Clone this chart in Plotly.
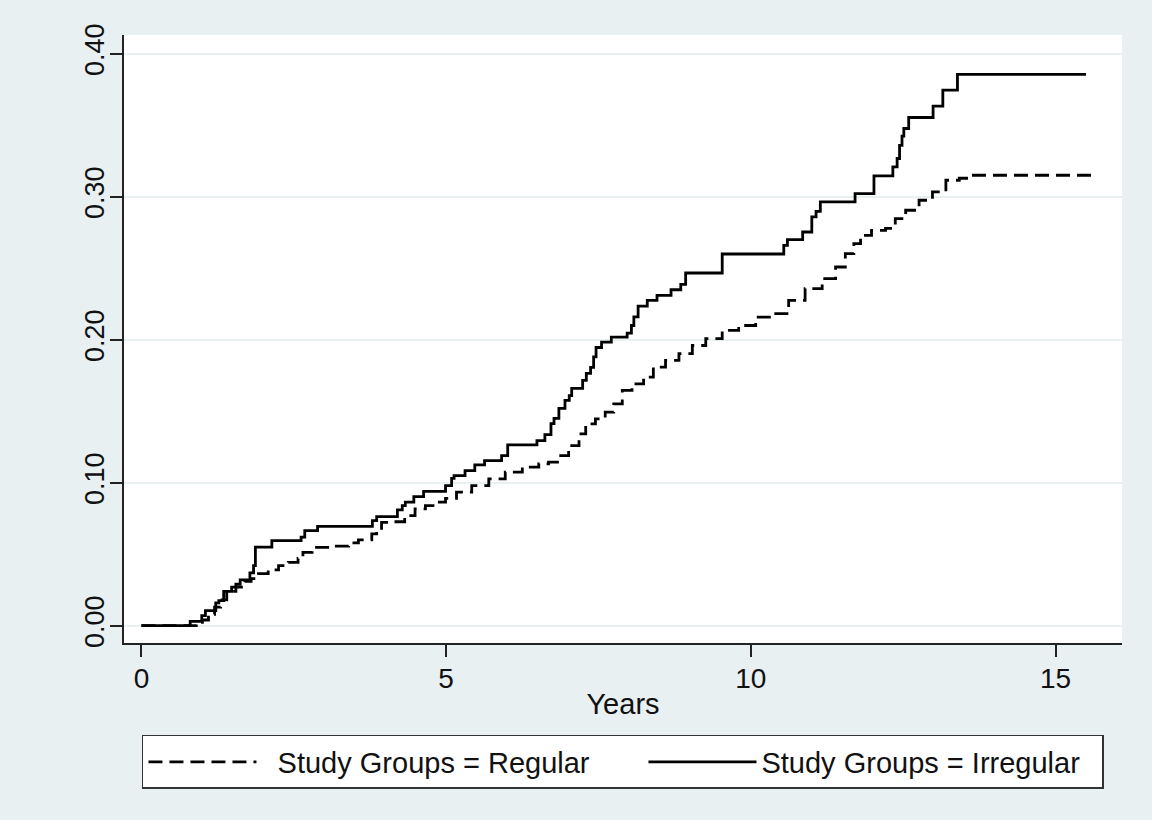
import plotly.graph_objects as go

# Irregular group (solid): step points (years, cumulative incidence)
irr_years = [0, 0.80, 0.99, 1.05, 1.22, 1.27, 1.35, 1.48, 1.55, 1.62, 1.78, 1.84, 1.87,
             2.14, 2.62, 2.68, 2.89, 3.79, 3.86, 4.20, 4.28, 4.33, 4.47, 4.63, 4.99,
             5.09, 5.13, 5.31, 5.47, 5.63, 5.91, 6.01, 6.49, 6.62, 6.72, 6.77, 6.85,
             6.95, 7.02, 7.06, 7.24, 7.30, 7.37, 7.42, 7.46, 7.55, 7.71, 7.97, 8.04,
             8.08, 8.15, 8.30, 8.46, 8.69, 8.85, 8.93, 9.53, 10.54, 10.60, 10.85, 11.00,
             11.07, 11.14, 11.71, 12.02, 12.33, 12.40, 12.44, 12.48, 12.51, 12.59, 12.99,
             13.15, 13.39, 15.50]
irr_vals = [0, 0.003, 0.007, 0.0105, 0.016, 0.0175, 0.024, 0.027, 0.029, 0.032, 0.037, 0.042, 0.055,
            0.0595, 0.062, 0.0665, 0.0695, 0.0735, 0.0763, 0.081, 0.084, 0.0864, 0.0903, 0.094, 0.098,
            0.103, 0.105, 0.1085, 0.1125, 0.1155, 0.119, 0.1265, 0.1295, 0.1337, 0.1414, 0.145, 0.152,
            0.1576, 0.161, 0.166, 0.1716, 0.1765, 0.1807, 0.188, 0.1946, 0.1984, 0.2019, 0.2047, 0.210,
            0.216, 0.2236, 0.2276, 0.231, 0.235, 0.2388, 0.2467, 0.2600, 0.2661, 0.270, 0.2754, 0.286,
            0.2898, 0.2965, 0.3023, 0.3147, 0.321, 0.3268, 0.336, 0.3424, 0.3478, 0.3555, 0.3634,
            0.3746, 0.3856, 0.3856]

# Regular group (dashed)
reg_years = [0, 0.90, 1.00, 1.10, 1.20, 1.30, 1.40, 1.55, 1.70, 1.80, 1.92, 2.08, 2.25, 2.41,
             2.57, 2.65, 2.80, 3.13, 3.40, 3.56, 3.78, 3.86, 3.94, 4.10, 4.32, 4.49, 4.66,
             4.82, 4.99, 5.17, 5.42, 5.70, 5.97, 6.25, 6.52, 6.68, 6.85, 7.01, 7.18, 7.29,
             7.45, 7.61, 7.75, 7.89, 8.05, 8.24, 8.40, 8.60, 8.82, 9.04, 9.26, 9.53, 9.80,
             10.08, 10.35, 10.62, 10.89, 11.17, 11.39, 11.55, 11.69, 11.80, 11.98, 12.21,
             12.37, 12.54, 12.76, 12.98, 13.20, 13.42, 13.58, 15.63]
reg_vals = [0, 0.001, 0.004, 0.008, 0.013, 0.018, 0.024, 0.027, 0.031, 0.033, 0.0364, 0.039, 0.042, 0.0443,
            0.047, 0.0513, 0.0548, 0.0556, 0.058, 0.060, 0.0642, 0.066, 0.0723, 0.0727, 0.077, 0.0817, 0.084,
            0.0864, 0.089, 0.0934, 0.098, 0.1027, 0.1074, 0.1109, 0.1132, 0.1144, 0.119, 0.126, 0.1342, 0.1412,
            0.1447, 0.1494, 0.1552, 0.1646, 0.1692, 0.1739, 0.1809, 0.1856, 0.1903, 0.196, 0.2008, 0.2066, 0.210,
            0.2159, 0.2183, 0.2276, 0.2358, 0.2428, 0.2509, 0.2603, 0.2673, 0.2731, 0.2766, 0.278,
            0.2848, 0.2906, 0.2976, 0.3034, 0.3116, 0.313, 0.3151, 0.3151]

x_ticks = [0, 5, 10, 15]
y_ticks = [0.0, 0.1, 0.2, 0.3, 0.4]
y_tick_text = ["0.00", "0.10", "0.20", "0.30", "0.40"]
series_names = ["Study Groups = Regular", "Study Groups = Irregular"]

BG = "#e8f0f2"
FONT = "Liberation Sans, Arial, sans-serif"
PAD = "\u00a0\u00a0"

fig = go.Figure()
fig.add_trace(go.Scatter(x=reg_years, y=reg_vals, mode="lines", line_shape="hv",
                         name=PAD + series_names[0], legendwidth=377,
                         line=dict(color="black", width=2.8, dash="14px,7px")))
fig.add_trace(go.Scatter(x=irr_years, y=irr_vals, mode="lines", line_shape="hv",
                         name=series_names[1], legendwidth=336,
                         line=dict(color="black", width=2.8)))

fig.update_layout(
    width=1152, height=820,
    margin=dict(l=124, r=30, t=35, b=177),
    paper_bgcolor=BG, plot_bgcolor="white",
    font=dict(family=FONT, size=28, color="#111"),
    showlegend=True,
    legend=dict(orientation="h", x=0.018, xanchor="left", y=-0.1513, yanchor="top",
                bgcolor="white", bordercolor="#333", borderwidth=1.5,
                itemwidth=108, font=dict(size=29, family=FONT)),
    xaxis=dict(range=[-0.286, 16.09], tickvals=x_ticks, showgrid=False, zeroline=False,
               showline=True, linecolor="#222", linewidth=1.5,
               ticks="outside", ticklen=12, tickwidth=1.5, tickcolor="#222",
               ticklabelstandoff=-2, tickfont=dict(size=28),
               title=dict(text="Years", standoff=0, font=dict(size=29))),
    yaxis=dict(range=[-0.0121, 0.4132], tickvals=y_ticks, ticktext=y_tick_text, tickangle=-90,
               showgrid=True, gridcolor=BG, gridwidth=2, zeroline=False,
               showline=True, linecolor="#222", linewidth=1.5, tickfont=dict(size=27),
               ticklabelstandoff=-5,
               ticks="outside", ticklen=12, tickwidth=1.5, tickcolor="#222"),
)

fig.write_html("out.html", config={"displayModeBar": False},
               post_script="document.body.style.margin='0';")
